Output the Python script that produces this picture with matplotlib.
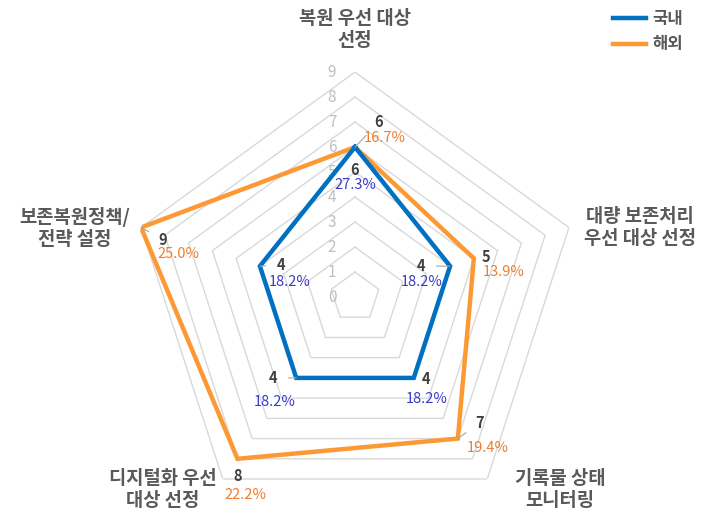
import numpy as np
import matplotlib
matplotlib.use('Agg')
import matplotlib.pyplot as plt

plt.rcParams['font.family'] = ['Noto Sans CJK KR', 'DejaVu Sans']

# 데이터
categories = ['복원 우선 대상\n선정', '대량 보존처리\n우선 대상 선정', '기록물 상태\n모니터링',
              '디지털화 우선\n대상 선정', '보존복원정책/\n전략 설정']
domestic = [6, 4, 4, 4, 4]
overseas = [6, 5, 7, 8, 9]
domestic_pct = ['27.3%', '18.2%', '18.2%', '18.2%', '18.2%']
overseas_pct = ['16.7%', '13.9%', '19.4%', '22.2%', '25.0%']
series_names = ['국내', '해외']

blue = '#0070c0'
orange = '#fd9934'

n = len(categories)
theta = np.linspace(0, 2 * np.pi, n, endpoint=False)
theta_c = np.append(theta, theta[0])

fig = plt.figure(figsize=(7.02, 5.13), dpi=100)
ax = fig.add_axes([0.1852, -0.0175, 0.641, 0.877], projection='polar')
ax.set_theta_offset(np.pi / 2)
ax.set_theta_direction(-1)
ax.set_ylim(0, 9)
ax.grid(False)
ax.spines['polar'].set_visible(False)
ax.set_xticks([])
ax.set_yticks([])
ax.patch.set_alpha(0)

# 격자 (오각형)
for r in range(1, 10):
    ax.plot(theta_c, [r] * (n + 1), color='#d9d9d9', lw=1, zorder=1)

# 눈금 라벨
for r in range(0, 10):
    ax.annotate(str(r), (0, r), xytext=(-23, 0), textcoords='offset pixels',
                ha='center', va='center', fontsize=11, color='#bfbfbf')

# 시리즈
ax.plot(theta_c, overseas + overseas[:1], color=orange, lw=3.2, zorder=3,
        solid_joinstyle='miter')
ax.plot(theta_c, domestic + domestic[:1], color=blue, lw=3.2, zorder=4,
        solid_joinstyle='miter')

# 데이터 라벨 (값 오프셋, 퍼센트 오프셋, 지시선 여부)
ov_off = [((24, 25), (30, 9), True), ((12, 1), (30, -14), False),
          ((22, 16), (30, -9), True), ((0, -17), (8, -36), False),
          ((22, -12), (37, -26), True)]
dm_off = [((0, -23), (0, -38), False), ((-29, 0), (-28, -16), True),
          ((12, -1), (13, -21), False), ((-23, 0), (-22, -24), True),
          ((21, 1), (30, -16), True)]

for vals, pcts, offs, pc_col in [(overseas, overseas_pct, ov_off, '#f07c2c'),
                                 (domestic, domestic_pct, dm_off, '#3b3bc8')]:
    for t, v, p, (vo, po, lead) in zip(theta, vals, pcts, offs):
        ap = dict(arrowstyle='-', color='#a6a6a6', lw=0.8, shrinkA=6, shrinkB=0) if lead else None
        ax.annotate(str(v), (t, v), xytext=vo, textcoords='offset pixels',
                    ha='center', va='center', fontsize=10.5, fontweight='bold',
                    color='#404040', arrowprops=ap, zorder=6)
        ax.annotate(p, (t, v), xytext=po, textcoords='offset pixels',
                    ha='center', va='center', fontsize=10.5, color=pc_col, zorder=6)

# 카테고리 라벨
cat_pos = [(355, 30), (640, 228), (560, 490), (163, 489), (75, 228)]
for lab, (x, y) in zip(categories, cat_pos):
    fig.text(x / 702, 1 - y / 513, lab, ha='center', va='center', fontsize=13.5,
             fontweight='bold', color='#595959', linespacing=1.2)

# 범례
leg = fig.legend(series_names, loc='upper right', bbox_to_anchor=(0.995, 1.01),
                 frameon=False, fontsize=12, handlelength=2.0, handletextpad=0.4,
                 labelspacing=0.45, labelcolor='#595959')
for h, c in zip(leg.legend_handles, [blue, orange]):
    h.set_color(c)
    h.set_linewidth(3.2)
for t in leg.get_texts():
    t.set_fontweight('bold')

fig.savefig('out.png', dpi=100)
